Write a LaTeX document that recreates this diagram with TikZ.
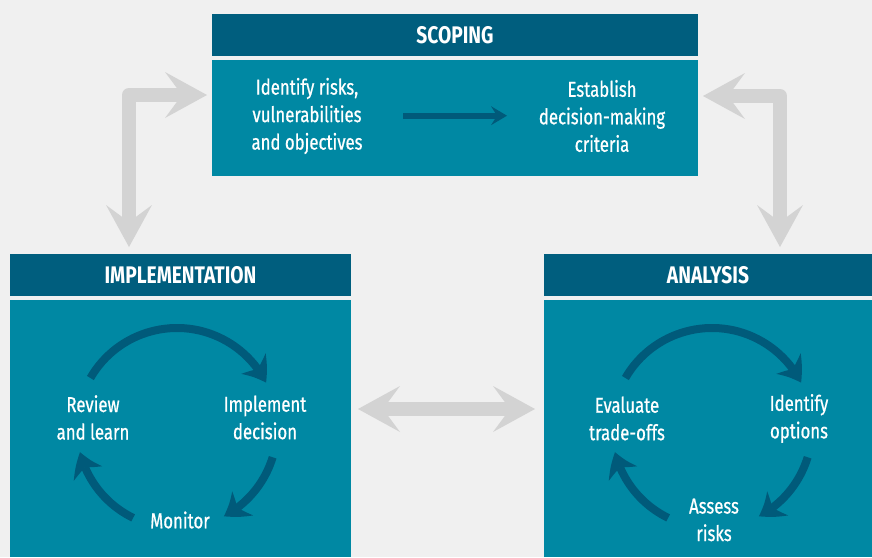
\documentclass[tikz,border=0pt]{standalone}
\usepackage{fontspec}
\setmainfont{Fira Sans}[FakeStretch=0.8]
\newfontfamily\lblfont{Fira Sans}[FakeStretch=0.78,FakeBold=0.7]
\usetikzlibrary{arrows.meta,bending,calc}
\definecolor{bgc}{HTML}{F0F0F0}
\definecolor{hdrc}{HTML}{005E7E}
\definecolor{bodyc}{HTML}{0088A3}
\definecolor{garr}{HTML}{D3D3D3}
\definecolor{darr}{HTML}{005A7A}
\begin{document}
\begin{tikzpicture}[x=1pt,y=1pt,
  hdrbox/.style={fill=hdrc, text=white, font=\fontsize{24}{28}\selectfont\bfseries, inner sep=0pt, minimum height=42pt},
  bodybox/.style={fill=bodyc, inner sep=0pt},
  lbl/.style={text=white, font=\lblfont\fontsize{21.5}{27.5}\selectfont, align=center, inner sep=0pt},
  garrow/.style={draw=garr, line width=14pt, line join=round,
    {Stealth[length=42pt,width=46pt,inset=17pt,line width=0pt]}-{Stealth[length=42pt,width=46pt,inset=17pt,line width=0pt]}},
  cyc/.style={draw=darr, line width=8pt, -{Stealth[length=23pt,width=32pt,inset=7pt,line width=0pt,bend]}},
  sarrow/.style={draw=darr, line width=6pt, -{Stealth[length=16pt,width=19pt,inset=6pt,line width=0pt]}}
]
\useasboundingbox (0,0) rectangle (872,-557);
\fill[bgc] (0,0) rectangle (872,-557);

% boxes
\node[hdrbox, minimum width=486pt] (sh) at (455,-35) {SCOPING};
\node[bodybox, minimum width=486pt, minimum height=116pt] (sb) at (455,-118) {};
\node[hdrbox, minimum width=341pt] (ih) at (180.5,-275) {IMPLEMENTATION};
\node[bodybox, minimum width=341pt, minimum height=257pt] (ib) at (180.5,-428.5) {};
\node[hdrbox, minimum width=328pt] (ah) at (708,-275) {ANALYSIS};
\node[bodybox, minimum width=328pt, minimum height=257pt] (ab) at (708,-428.5) {};

% gray connectors
\coordinate (g1a) at (207,-95);
\coordinate (g1c) at (129,-95);
\coordinate (g1b) at (129,-247);
\draw[garrow] (g1a) -- (g1c) -- (g1b);
\coordinate (g2a) at (703,-96);
\coordinate (g2c) at (780,-96);
\coordinate (g2b) at (780,-247);
\draw[garrow] (g2a) -- (g2c) -- (g2b);
\coordinate (g3a) at (358,-409);
\coordinate (g3b) at (535,-409);
\draw[garrow] (g3a) -- (g3b);

% scoping content
\node[lbl] (s1) at (307,-116) {Identify risks,\\vulnerabilities\\and objectives};
\node[lbl] (s2) at (602,-116) {Establish\\decision-making\\criteria};
\coordinate (sa) at (403,-115.7);
\coordinate (sz) at (507,-115.7);
\draw[sarrow] (sa) -- (sz);

% implementation cycle
\coordinate (ic) at (177,-428);
\node[lbl] (i1) at (93,-417.5) {Review\\and learn};
\node[lbl] (i2) at (265,-417.5) {Implement\\decision};
\node[lbl] (i3) at (180,-520) {Monitor};
\draw[cyc] ($(ic)+(150:100pt)$) arc[start angle=150, end angle=27, radius=100pt];
\draw[cyc] ($(ic)+(-17:100pt)$) arc[start angle=-17, end angle=-62, radius=100pt];
\draw[cyc] ($(ic)+(244:100pt)$) arc[start angle=244, end angle=194, radius=100pt];

% analysis cycle
\coordinate (ac) at (712,-428);
\node[lbl] (a1) at (627,-418.5) {Evaluate\\trade-offs};
\node[lbl] (a2) at (799,-418.5) {Identify\\options};
\node[lbl] (a3) at (714,-520) {Assess\\risks};
\draw[cyc] ($(ac)+(150:100pt)$) arc[start angle=150, end angle=27, radius=100pt];
\draw[cyc] ($(ac)+(-17:100pt)$) arc[start angle=-17, end angle=-62, radius=100pt];
\draw[cyc] ($(ac)+(244:100pt)$) arc[start angle=244, end angle=194, radius=100pt];
\end{tikzpicture}
\end{document}
